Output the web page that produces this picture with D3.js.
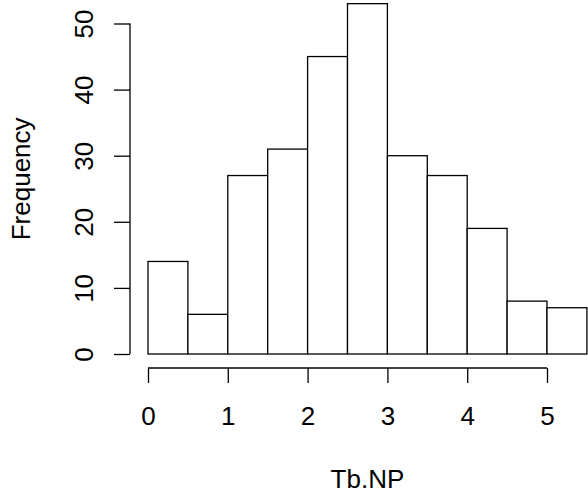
<!DOCTYPE html>
<html>
<head>
<meta charset="utf-8">
<script src="https://cdn.jsdelivr.net/npm/d3@7"></script>
<style>
  html, body { margin: 0; padding: 0; background: #fff; }
  svg { display: block; }
  text { font-family: "Liberation Sans", Arial, sans-serif; fill: #000; }
</style>
</head>
<body>
<script>
// Histogram of Tb.NP
const binStarts = [0, 0.5, 1, 1.5, 2, 2.5, 3, 3.5, 4, 4.5, 5];
const binWidth = 0.5;
const counts = [14, 6, 27, 31, 45, 53, 30, 27, 19, 8, 7];
const xTicks = [0, 1, 2, 3, 4, 5];
const yTicks = [0, 10, 20, 30, 40, 50];
const xLabel = "Tb.NP";
const yLabel = "Frequency";

const W = 588, H = 493;
const fontSize = 26;

const svg = d3.select("body").append("svg")
  .attr("width", W).attr("height", H);

const x = d3.scaleLinear().domain([0, 5]).range([148, 547]);
const y = d3.scaleLinear().domain([0, 50]).range([354, 23.5]);

const axisY0 = 368; // x axis position (bottom of plot region)
const axisX0 = 130; // y axis position (left of plot region)

// bars
svg.append("g").selectAll("rect")
  .data(counts)
  .join("rect")
  .attr("x", (d, i) => x(binStarts[i]))
  .attr("y", d => y(d))
  .attr("width", (d, i) => x(binStarts[i] + binWidth) - x(binStarts[i]))
  .attr("height", d => y(0) - y(d))
  .attr("fill", "#fff")
  .attr("stroke", "#000")
  .attr("stroke-width", 1.3);

// x axis
const gx = svg.append("g")
  .attr("transform", `translate(0,${axisY0})`)
  .call(d3.axisBottom(x).tickValues(xTicks).tickFormat(d3.format("d"))
    .tickSize(15).tickSizeOuter(0).tickPadding(24));
gx.select(".domain").attr("d", `M${x(0)},0H${x(5)}`).attr("stroke-width", 1.3);
gx.selectAll(".tick line").attr("stroke-width", 1.3);
gx.selectAll("text").style("font-size", fontSize + "px")
  .style("font-family", "'Liberation Sans', Arial, sans-serif");

// y axis
const gy = svg.append("g")
  .attr("transform", `translate(${axisX0},0)`)
  .call(d3.axisLeft(y).tickValues(yTicks).tickFormat(d3.format("d"))
    .tickSize(16).tickSizeOuter(0));
gy.select(".domain").attr("d", `M0,${y(0)}V${y(50)}`).attr("stroke-width", 1.3);
gy.selectAll(".tick line").attr("stroke-width", 1.3);
gy.selectAll("text")
  .attr("x", null).attr("dy", null)
  .attr("transform", "translate(-37,0) rotate(-90)")
  .attr("text-anchor", "middle")
  .style("font-size", fontSize + "px")
  .style("font-family", "'Liberation Sans', Arial, sans-serif");

// axis titles
svg.append("text")
  .attr("x", x(2.75)).attr("y", 488)
  .attr("text-anchor", "middle")
  .style("font-size", fontSize + "px")
  .text(xLabel);

svg.append("text")
  .attr("transform", `translate(30,${y(26.5)}) rotate(-90)`)
  .attr("text-anchor", "middle")
  .style("font-size", fontSize + "px")
  .text(yLabel);
</script>
</body>
</html>
